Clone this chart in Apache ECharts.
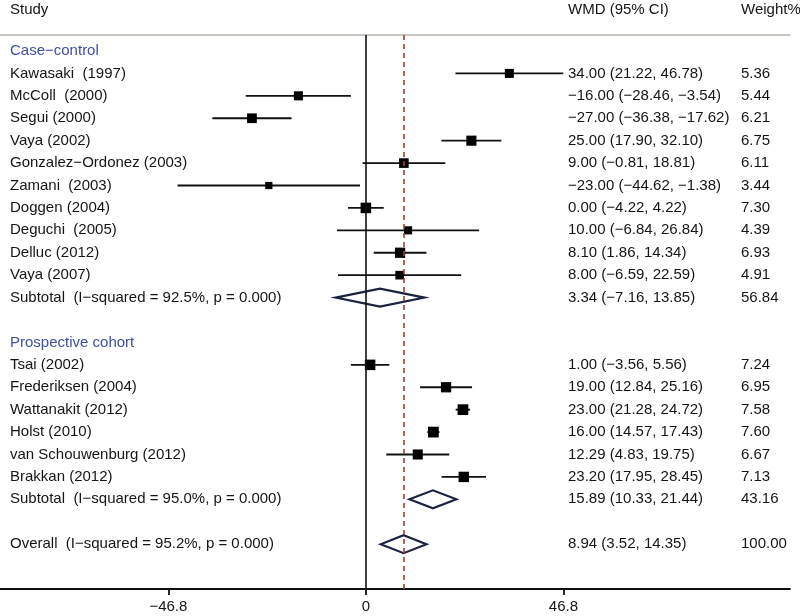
<!DOCTYPE html>
<html>
<head>
<meta charset="utf-8">
<script src="https://cdn.jsdelivr.net/npm/echarts@6/dist/echarts.min.js"></script>
<style>
html,body{margin:0;padding:0;background:#fff;}
#chart{width:800px;height:616px;}
</style>
</head>
<body>
<div id="chart"></div>
<script>
// ---- Data ----
const groupNames = ['Case\u2212control', 'Prospective cohort'];

const caseStudies = ['Kawasaki  (1997)', 'McColl  (2000)', 'Segui (2000)', 'Vaya (2002)', 'Gonzalez\u2212Ordonez (2003)', 'Zamani  (2003)', 'Doggen (2004)', 'Deguchi  (2005)', 'Delluc (2012)', 'Vaya (2007)'];
const caseWmd = [34.00, -16.00, -27.00, 25.00, 9.00, -23.00, 0.00, 10.00, 8.10, 8.00];
const caseLo = [21.22, -28.46, -36.38, 17.90, -0.81, -44.62, -4.22, -6.84, 1.86, -6.59];
const caseHi = [46.78, -3.54, -17.62, 32.10, 18.81, -1.38, 4.22, 26.84, 14.34, 22.59];
const caseWeight = [5.36, 5.44, 6.21, 6.75, 6.11, 3.44, 7.30, 4.39, 6.93, 4.91];
const caseSubtotal = { label: 'Subtotal  (I\u2212squared = 92.5%, p = 0.000)', est: 3.34, lo: -7.16, hi: 13.85, w: 56.84 };

const cohortStudies = ['Tsai (2002)', 'Frederiksen (2004)', 'Wattanakit (2012)', 'Holst (2010)', 'van Schouwenburg (2012)', 'Brakkan (2012)'];
const cohortWmd = [1.00, 19.00, 23.00, 16.00, 12.29, 23.20];
const cohortLo = [-3.56, 12.84, 21.28, 14.57, 4.83, 17.95];
const cohortHi = [5.56, 25.16, 24.72, 17.43, 19.75, 28.45];
const cohortWeight = [7.24, 6.95, 7.58, 7.60, 6.67, 7.13];
const cohortSubtotal = { label: 'Subtotal  (I\u2212squared = 95.0%, p = 0.000)', est: 15.89, lo: 10.33, hi: 21.44, w: 43.16 };

const overall = { label: 'Overall  (I\u2212squared = 95.2%, p = 0.000)', est: 8.94, lo: 3.52, hi: 14.35, w: 100.00 };

const headers = ['Study', 'WMD (95% CI)', 'Weight%'];
const tickValues = [-46.8, 0, 46.8];

// ---- Build rows ----
const rows = [];
let r = 0;
function addGroup(name, studies, wmd, lo, hi, wt, sub) {
  rows.push({ row: r++, type: 'head', label: name });
  studies.forEach((s, i) => rows.push({ row: r++, type: 'study', label: s, est: wmd[i], lo: lo[i], hi: hi[i], w: wt[i] }));
  rows.push(Object.assign({ row: r++, type: 'sub' }, sub));
  r++; // blank row
}
addGroup(groupNames[0], caseStudies, caseWmd, caseLo, caseHi, caseWeight, caseSubtotal);
addGroup(groupNames[1], cohortStudies, cohortWmd, cohortLo, cohortHi, cohortWeight, cohortSubtotal);
rows.push(Object.assign({ row: r++, type: 'sub' }, overall));

const fmt = v => v.toFixed(2).replace('-', '\u2212');
const FONT = '15px "Liberation Sans", Arial, sans-serif';
const TXT = '#151515';
const HEAD_COLOR = '#3f4ea3';

const studyRows = rows.filter(d => d.type === 'study');
const subRows = rows.filter(d => d.type === 'sub');

const chart = echarts.init(document.getElementById('chart'));
chart.setOption({
  animation: false,
  backgroundColor: '#fff',
  grid: { left: 0, right: 10, top: 35, bottom: 27, containLabel: false },
  xAxis: [{
    type: 'value', min: -86.7, max: 100.5, position: 'bottom',
    splitLine: { show: false },
    axisLine: { show: true, onZero: false, lineStyle: { color: '#111', width: 1.8 } },
    axisTick: { show: true, customValues: tickValues, length: 6, lineStyle: { color: '#111', width: 1.8 } },
    axisLabel: { show: true, customValues: tickValues, color: TXT, fontSize: 15, fontFamily: '"Liberation Sans", Arial, sans-serif', margin: 10,
      formatter: v => String(v).replace('-', '\u2212') }
  }, {
    type: 'value', min: -86.7, max: 100.5, position: 'top',
    splitLine: { show: false },
    axisLine: { show: true, onZero: false, lineStyle: { color: '#b8b2ad', width: 1.5 } },
    axisTick: { show: false }, axisLabel: { show: false }
  }],
  yAxis: { type: 'value', inverse: true, min: -0.714, max: 24.0, show: false },
  series: [
    {
      type: 'custom', name: 'ref', clip: false,
      data: [],
      renderItem: () => null,
      markLine: {
        silent: true, symbol: 'none', label: { show: false },
        data: [
          { xAxis: 0, lineStyle: { color: '#111', width: 1.6, type: 'solid' } },
          { xAxis: overall.est, lineStyle: { color: '#a83a32', width: 1.6, type: [5, 4] } }
        ]
      }
    },
    {
      type: 'custom', name: 'studies', clip: false,
      data: studyRows.map(d => [d.est, d.lo, d.hi, d.row, d.w]),
      renderItem: (params, api) => {
        const y = api.coord([0, api.value(3)])[1];
        const x0 = api.coord([api.value(1), 0])[0];
        const x1 = api.coord([api.value(2), 0])[0];
        const xc = api.coord([api.value(0), 0])[0];
        const s = 3.9 * Math.sqrt(api.value(4));
        return { type: 'group', children: [
          { type: 'line', shape: { x1: x0, y1: y, x2: x1, y2: y }, style: { stroke: '#111', lineWidth: 1.9 } },
          { type: 'rect', shape: { x: xc - s / 2, y: y - s / 2, width: s, height: s }, style: { fill: '#000' } }
        ]};
      }
    },
    {
      type: 'custom', name: 'diamonds', clip: false,
      data: subRows.map(d => [d.est, d.lo, d.hi, d.row]),
      renderItem: (params, api) => {
        const y = api.coord([0, api.value(3)])[1];
        const x0 = api.coord([api.value(1), 0])[0];
        const x1 = api.coord([api.value(2), 0])[0];
        const xc = api.coord([api.value(0), 0])[0];
        const h = 9;
        return { type: 'polygon', shape: { points: [[x0, y], [xc, y - h], [x1, y], [xc, y + h]] },
          style: { fill: 'rgba(255,255,255,0)', stroke: '#1b2340', lineWidth: 2.2 } };
      }
    },
    {
      type: 'custom', name: 'text', clip: false,
      data: rows.map(d => [d.row]),
      renderItem: (params, api) => {
        const d = rows[params.dataIndex];
        const y = api.coord([0, d.row])[1];
        const kids = [{ type: 'text', x: 10, y: y, style: { text: d.label, font: FONT, fill: d.type === 'head' ? HEAD_COLOR : TXT, verticalAlign: 'middle', align: 'left' } }];
        if (d.type !== 'head') {
          kids.push({ type: 'text', x: 568, y: y, style: { text: fmt(d.est) + ' (' + fmt(d.lo) + ', ' + fmt(d.hi) + ')', font: FONT, fill: TXT, verticalAlign: 'middle', align: 'left' } });
          kids.push({ type: 'text', x: 741, y: y, style: { text: d.w.toFixed(2), font: FONT, fill: TXT, verticalAlign: 'middle', align: 'left' } });
        }
        return { type: 'group', children: kids };
      }
    },
    {
      type: 'custom', name: 'headers', clip: false,
      data: [[-1.83]],
      renderItem: (params, api) => {
        const y = api.coord([0, api.value(0)])[1];
        const xs = [10, 568, 741];
        return { type: 'group', children: headers.map((h, i) => ({ type: 'text', x: xs[i], y: y, style: { text: h, font: FONT, fill: TXT, verticalAlign: 'middle', align: 'left' } })) };
      }
    }
  ]
});
</script>
</body>
</html>
